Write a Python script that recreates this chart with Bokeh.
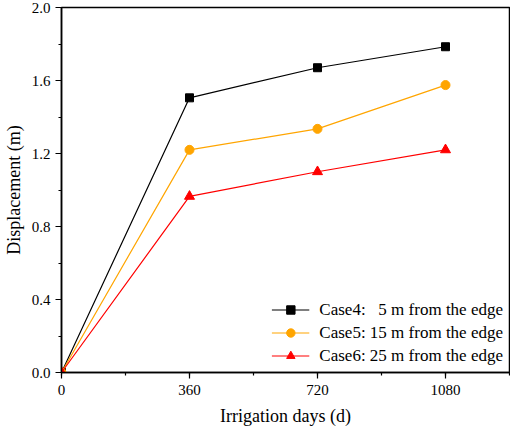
from bokeh.plotting import figure
from bokeh.models import Range1d, SingleIntervalTicker, Legend, LegendItem, CustomJSTickFormatter
from bokeh.embed import file_html
from bokeh.resources import INLINE

days = [0, 360, 720, 1080]
case4 = [0.0, 1.505, 1.67, 1.785]
case5 = [0.0, 1.22, 1.335, 1.575]
case6 = [0.0, 0.965, 1.10, 1.22]
labels = ["Case4: \u20075 m from the edge",
          "Case5: 15 m from the edge",
          "Case6: 25 m from the edge"]

FONT = "'Liberation Serif', 'Times New Roman', serif"

p = figure(width=510, height=432, output_backend="svg", toolbar_location=None,
           x_range=Range1d(0, 1260), y_range=Range1d(0, 2.0),
           min_border_left=54, min_border_right=1, min_border_top=7, min_border_bottom=60)
p.background_fill_color = "white"
p.border_fill_color = "white"
p.outline_line_color = "black"
p.outline_line_width = 1.5
p.grid.visible = False

for ax in (p.xaxis[0], p.yaxis[0]):
    ax.axis_line_width = 1.5
    ax.major_tick_line_width = 1.2
    ax.minor_tick_line_width = 1.2
    ax.major_tick_out = 6
    ax.major_tick_in = 0
    ax.minor_tick_out = 3
    ax.minor_tick_in = 0
    ax.major_label_text_font = FONT
    ax.major_label_text_font_size = "15px"
    ax.major_label_text_color = "black"
    ax.axis_label_text_font = FONT
    ax.axis_label_text_font_size = "18px"
    ax.axis_label_text_font_style = "normal"
    ax.axis_label_text_color = "black"

p.xaxis.ticker = SingleIntervalTicker(interval=360, num_minor_ticks=2)
p.yaxis.ticker = SingleIntervalTicker(interval=0.4, num_minor_ticks=2)
p.yaxis.formatter = CustomJSTickFormatter(code="return tick.toFixed(1);")
p.xaxis.axis_label = "Irrigation days (d)"
p.yaxis.axis_label = "Displacement (m)"
p.xaxis.major_label_standoff = 6
p.yaxis.major_label_standoff = 5
p.xaxis.axis_label_standoff = 8
p.yaxis.axis_label_standoff = 5

colors = ["black", "#FFA500", "#FF0000"]
markers = ["square", "circle", "triangle"]
sizes = [8, 9, 10]
series = [case4, case5, case6]
items = []
for vals, c, m, sz, lab in zip(series, colors, markers, sizes, labels):
    l = p.line(days, vals, line_color=c, line_width=1.2)
    s = p.scatter(days, vals, marker=m, size=sz, fill_color=c, line_color=c)
    items.append(LegendItem(label=lab, renderers=[l, s]))

leg = Legend(items=items, location="bottom_right")
leg.label_text_font = FONT
leg.label_text_font_size = "17px"
leg.label_text_color = "black"
leg.glyph_width = 38
leg.glyph_height = 21
leg.label_height = 21
leg.label_standoff = 10
leg.spacing = 2
leg.padding = 3
leg.margin = 6
leg.border_line_color = None
leg.background_fill_alpha = 0
p.add_layout(leg)

open("out.html", "w").write(file_html(p, INLINE))
